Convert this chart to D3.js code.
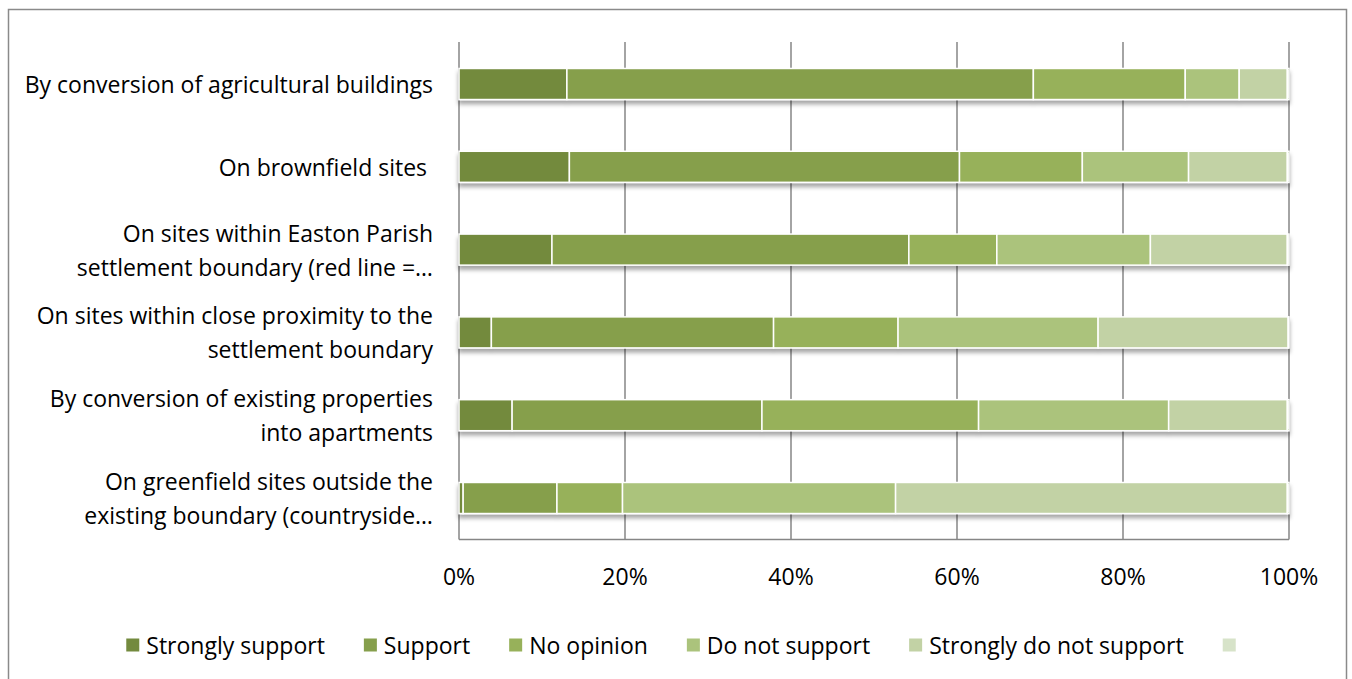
<!DOCTYPE html>
<html>
<head>
<meta charset="utf-8">
<script src="https://cdn.jsdelivr.net/npm/d3@7"></script>
<style>
  html, body { margin: 0; padding: 0; background: #fff; }
  svg { display: block; }
  text { font-family: "Open Sans", "Liberation Sans", sans-serif; fill: #000; white-space: pre; }
</style>
</head>
<body>
<svg id="chart" width="1352" height="679"></svg>
<script>
// Housing location preferences, share of responses per option
const categories = [
  ["By conversion of agricultural buildings"],
  ["On brownfield sites "],
  ["On sites within Easton Parish", "settlement boundary (red line =…"],
  ["On sites within close proximity to the", "settlement boundary"],
  ["By conversion of existing properties", "into apartments"],
  ["On greenfield sites outside the", "existing boundary (countryside…"]
];
const seriesNames = ["Strongly support", "Support", "No opinion", "Do not support", "Strongly do not support", ""];
const stronglySupport   = [13.0, 13.3, 11.2, 3.9, 6.4, 0.5];
const support           = [56.2, 47.0, 43.0, 34.0, 30.1, 11.3];
const noOpinion         = [18.3, 14.8, 10.6, 15.0, 26.1, 7.9];
const doNotSupport      = [6.5, 12.8, 18.5, 24.1, 22.9, 32.9];
const stronglyDoNot     = [5.8, 11.9, 16.5, 22.9, 14.3, 47.2];
const unlabelled        = [0.2, 0.2, 0.2, 0.1, 0.2, 0.2];
const tickValues = [0, 0.2, 0.4, 0.6, 0.8, 1.0];

const colors = ["#738a3e", "#869f4c", "#97b15a", "#abc37c", "#c2d2a5", "#d7e3c9"];
const seriesArrays = [stronglySupport, support, noOpinion, doNotSupport, stronglyDoNot, unlabelled];

const rows = categories.map((c, i) => {
  const r = { key: i };
  seriesArrays.forEach((arr, s) => { r["s" + s] = arr[i]; });
  return r;
});
const keys = seriesArrays.map((_, s) => "s" + s);
const stacked = d3.stack().keys(keys).offset(d3.stackOffsetExpand)(rows);

const svg = d3.select("#chart");
const fontSize = 23;

// outer frame
svg.append("rect")
  .attr("x", 8.5).attr("y", 9.5).attr("width", 1338).attr("height", 690)
  .attr("fill", "none").attr("stroke", "#8a8a8a").attr("stroke-width", 1.5);

const plotLeft = 459, plotRight = 1289, plotTop = 42.6, plotBottom = 539.4;
const x = d3.scaleLinear().domain([0, 1]).range([plotLeft, plotRight]);
const y = d3.scaleBand().domain(d3.range(categories.length)).range([plotTop, plotBottom])
  .paddingInner(0.625).paddingOuter(0.3125);

const defs = svg.append("defs");
const f = defs.append("filter").attr("id", "shadow")
  .attr("x", "-2%").attr("y", "-30%").attr("width", "104%").attr("height", "180%");
f.append("feDropShadow").attr("dx", 0).attr("dy", 4).attr("stdDeviation", 2.2)
  .attr("flood-color", "#000").attr("flood-opacity", 0.35);

// vertical gridlines
svg.append("g").selectAll("line").data(tickValues).join("line")
  .attr("x1", d => x(d)).attr("x2", d => x(d))
  .attr("y1", 42).attr("y2", plotBottom)
  .attr("stroke", "#868686").attr("stroke-width", 1.5);

// baseline
svg.append("line")
  .attr("x1", plotLeft).attr("x2", plotRight).attr("y1", plotBottom).attr("y2", plotBottom)
  .attr("stroke", "#868686").attr("stroke-width", 1.5);

// bars
const barRows = svg.append("g").selectAll("g.row").data(rows).join("g")
  .attr("class", "row").attr("filter", "url(#shadow)");
barRows.selectAll("rect").data(r => stacked.map((layer, s) => ({ s, v: layer[r.key] })))
  .join("rect")
  .attr("x", d => x(d.v[0]))
  .attr("width", d => Math.max(0, x(d.v[1]) - x(d.v[0])))
  .attr("y", d => y(d.v.data.key))
  .attr("height", y.bandwidth())
  .attr("fill", d => colors[d.s])
  .attr("stroke", "#fff").attr("stroke-width", 1.5);

// x tick labels
svg.append("g").selectAll("text").data(tickValues).join("text")
  .attr("x", d => x(d)).attr("y", 576)
  .attr("text-anchor", "middle").attr("dominant-baseline", "central")
  .attr("font-size", fontSize)
  .text(d3.format(".0%"));

// category labels
const lineGap = 34;
svg.append("g").selectAll("text").data(categories).join("text")
  .attr("text-anchor", "end")
  .attr("font-size", fontSize)
  .each(function(lines, i) {
    const cy = y(i) + y.bandwidth() / 2;
    const t = d3.select(this);
    lines.forEach((ln, k) => {
      t.append("tspan")
        .attr("x", 433)
        .attr("y", cy + (k - (lines.length - 1) / 2) * lineGap)
        .attr("dominant-baseline", "central")
        .text(ln);
    });
  });

// legend
const legend = svg.append("g");
const sq = 13, txtGap = 7, itemGap = 39, legY = 645;
const items = legend.selectAll("g").data(seriesNames).join("g");
items.append("rect")
  .attr("width", sq).attr("height", sq).attr("y", legY - sq / 2)
  .attr("fill", (d, i) => colors[i]);
items.append("text")
  .attr("x", sq + txtGap).attr("y", legY)
  .attr("dominant-baseline", "central").attr("font-size", fontSize)
  .text(d => d);
let widths = [];
items.each(function() {
  const tw = d3.select(this).select("text").node().getComputedTextLength();
  widths.push(tw > 0 ? sq + txtGap + tw : sq);
});
const total = d3.sum(widths) + itemGap * (widths.length - 1);
let cx = 681 - total / 2;
items.each(function(d, i) {
  d3.select(this).attr("transform", `translate(${cx},0)`);
  cx += widths[i] + itemGap;
});
</script>
</body>
</html>
